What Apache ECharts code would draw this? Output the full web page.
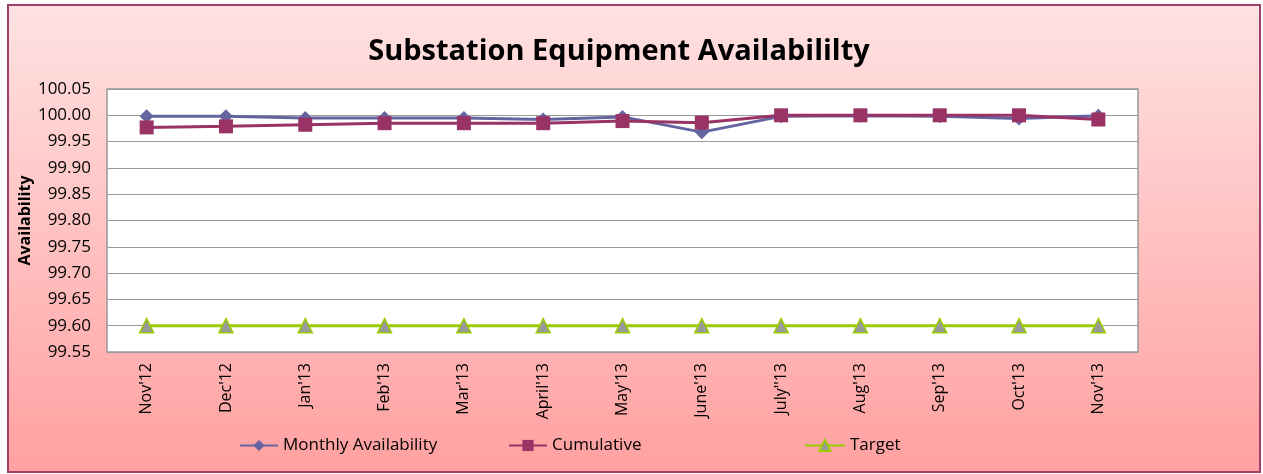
<!DOCTYPE html>
<html>
<head>
<meta charset="utf-8">
<script src="https://cdn.jsdelivr.net/npm/echarts@6/dist/echarts.min.js"></script>
<style>
html,body{margin:0;padding:0;background:#fff;}
#chart{width:1263px;height:474px;}
</style>
</head>
<body>
<div id="chart"></div>
<script>
const categories = ["Nov'12","Dec'12","Jan'13","Feb'13","Mar'13","April'13","May'13","June'13","July''13","Aug'13","Sep'13","Oct'13","Nov'13"];
const monthly = [99.998, 99.998, 99.995, 99.995, 99.995, 99.992, 99.997, 99.968, 99.998, 99.999, 99.998, 99.994, 99.999];
const cumulative = [99.977, 99.979, 99.982, 99.985, 99.985, 99.985, 99.989, 99.986, 100.0, 100.0, 100.0, 100.0, 99.992];
const target = [99.6, 99.6, 99.6, 99.6, 99.6, 99.6, 99.6, 99.6, 99.6, 99.6, 99.6, 99.6, 99.6];
const yTicks = {min: 99.55, max: 100.05, interval: 0.05};

const FONT = "'Open Sans', 'Noto Sans', sans-serif";
const legendText = {fontFamily: FONT, fontSize: 17, color: '#000'};
const chart = echarts.init(document.getElementById('chart'));
chart.setOption({
  animation: false,
  backgroundColor: 'transparent',
  graphic: [{
    type: 'rect', z: -10, silent: true,
    shape: {x: 8, y: 5, width: 1252, height: 467},
    style: {
      fill: new echarts.graphic.LinearGradient(0, 0, 0, 1, [
        {offset: 0, color: '#FFE2E2'}, {offset: 1, color: '#FFA0A0'}
      ]),
      stroke: '#A0406A', lineWidth: 2
    }
  }],
  title: {
    text: 'Substation Equipment Availabililty',
    left: 614, top: 32, textAlign: 'center',
    textStyle: {fontFamily: FONT, fontSize: 29, fontWeight: 'bold', color: '#000'}
  },
  grid: {left: 107, top: 89, width: 1031, height: 263, show: true, backgroundColor: '#fff', borderColor: '#999', borderWidth: 1.5},
  legend: [
    {data: ['Monthly Availability'], left: 234, top: 432, itemWidth: 38, itemHeight: 14, itemGap: 4, textStyle: legendText},
    {data: ['Cumulative'], left: 503, top: 432, itemWidth: 38, itemHeight: 14, textStyle: legendText},
    {data: ['Target'], left: 799, top: 432, itemWidth: 40, itemHeight: 14, textStyle: legendText}
  ],
  xAxis: {
    type: 'category', data: categories, boundaryGap: true,
    axisLine: {show: false}, axisTick: {show: false},
    axisLabel: {rotate: 90, fontFamily: FONT, fontSize: 16, color: '#000', margin: 11, interval: 0}
  },
  yAxis: {
    type: 'value', min: yTicks.min, max: yTicks.max, interval: yTicks.interval,
    name: 'Availability', nameLocation: 'middle', nameGap: 74, nameRotate: 90, nameMoveOverlap: false,
    nameTextStyle: {fontFamily: FONT, fontSize: 16, fontWeight: 'bold', color: '#000'},
    axisLine: {show: false}, axisTick: {show: false},
    axisLabel: {fontFamily: FONT, fontSize: 17, color: '#000', margin: 16, formatter: v => v.toFixed(2)},
    splitLine: {lineStyle: {color: '#999', width: 1.2}}
  },
  series: [
    {name: 'Monthly Availability', type: 'line', data: monthly, symbol: 'diamond', symbolSize: 14,
     lineStyle: {color: '#6464A0', width: 3}, itemStyle: {color: '#6464A0'}},
    {name: 'Cumulative', type: 'line', data: cumulative, symbol: 'rect', symbolSize: 14,
     lineStyle: {color: '#993366', width: 3}, itemStyle: {color: '#993366'}},
    {name: 'Target', type: 'line', data: target, symbol: 'triangle', symbolSize: 14,
     lineStyle: {color: '#99CC00', width: 3}, itemStyle: {color: '#999999', borderColor: '#99CC00', borderWidth: 1.5}}
  ]
});
</script>
</body>
</html>
